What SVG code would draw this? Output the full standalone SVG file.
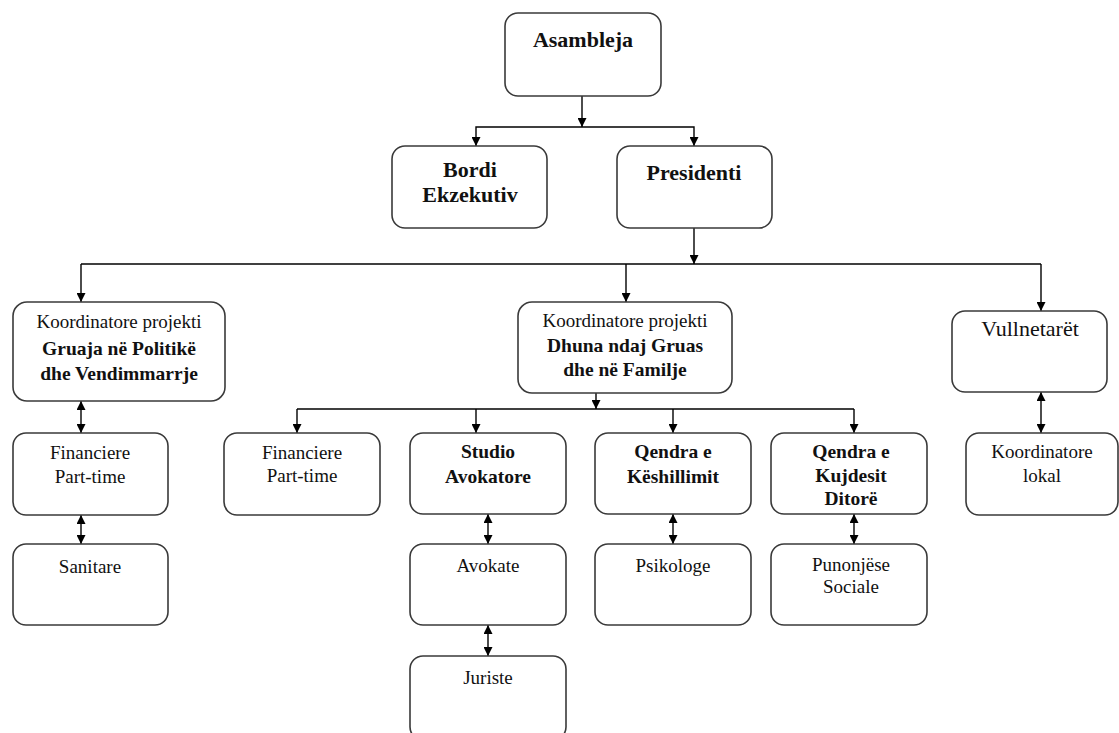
<svg xmlns="http://www.w3.org/2000/svg" width="1119" height="733" viewBox="0 0 1119 733">
<style>
.box{fill:#fff;stroke:#3a3a3a;stroke-width:1.6}
.t{font-family:"Liberation Serif","Times New Roman",serif;fill:#111;text-anchor:middle;font-size:19px}
.b{font-weight:bold;font-size:19.5px}
.big{font-size:22px}
.c{fill:none;stroke:#000;stroke-width:1.4}
</style>
<defs>
<marker id="ah" markerUnits="userSpaceOnUse" markerWidth="9" markerHeight="9" refX="9" refY="4.5" orient="auto-start-reverse" viewBox="0 0 9 9">
<path d="M0,0 L9,4.5 L0,9 z" fill="#000"/>
</marker>
</defs>
<rect width="1119" height="733" fill="#fff"/>
<g id="connectors">
<path class="c" d="M582,96 V127" marker-end="url(#ah)"/>
<path class="c" d="M582,127 H476 V146" marker-end="url(#ah)"/>
<path class="c" d="M582,127 H694 V146" marker-end="url(#ah)"/>
<path class="c" d="M694,228 V264" marker-end="url(#ah)"/>
<path class="c" d="M81,264 H1041"/>
<path class="c" d="M81,264 V302" marker-end="url(#ah)"/>
<path class="c" d="M626,264 V302" marker-end="url(#ah)"/>
<path class="c" d="M1041,264 V311" marker-end="url(#ah)"/>
<path class="c" d="M81,401 V433" marker-start="url(#ah)" marker-end="url(#ah)"/>
<path class="c" d="M596,393 V409" marker-end="url(#ah)"/>
<path class="c" d="M297,409 H854"/>
<path class="c" d="M297,409 V433" marker-end="url(#ah)"/>
<path class="c" d="M476,409 V433" marker-end="url(#ah)"/>
<path class="c" d="M673,409 V433" marker-end="url(#ah)"/>
<path class="c" d="M854,409 V433" marker-end="url(#ah)"/>
<path class="c" d="M81,515 V544" marker-start="url(#ah)" marker-end="url(#ah)"/>
<path class="c" d="M488,514 V544" marker-start="url(#ah)" marker-end="url(#ah)"/>
<path class="c" d="M488,625 V656" marker-start="url(#ah)" marker-end="url(#ah)"/>
<path class="c" d="M673,514 V544" marker-start="url(#ah)" marker-end="url(#ah)"/>
<path class="c" d="M854,514 V544" marker-start="url(#ah)" marker-end="url(#ah)"/>
<path class="c" d="M1041,392 V433" marker-start="url(#ah)" marker-end="url(#ah)"/>
</g>
<g id="asambleja"><rect class="box" x="505" y="13" width="156" height="83" rx="13"/><text class="t b big" x="583" y="47">Asambleja</text></g>
<g id="bordi"><rect class="box" x="392" y="146" width="155" height="82" rx="13"/><text class="t b big" x="470" y="177">Bordi</text><text class="t b big" x="470" y="202">Ekzekutiv</text></g>
<g id="presidenti"><rect class="box" x="617" y="146" width="155" height="82" rx="13"/><text class="t b big" x="694" y="180">Presidenti</text></g>
<g id="koord-politike"><rect class="box" x="13" y="302" width="212" height="99" rx="14"/><text class="t" x="119" y="328">Koordinatore projekti</text><text class="t b" x="119" y="355">Gruaja në Politikë</text><text class="t b" x="119" y="380">dhe Vendimmarrje</text></g>
<g id="koord-dhuna"><rect class="box" x="518" y="302" width="214" height="91" rx="14"/><text class="t" x="625" y="327">Koordinatore projekti</text><text class="t b" x="625" y="352">Dhuna ndaj Gruas</text><text class="t b" x="625" y="376">dhe në Familje</text></g>
<g id="vullnetaret"><rect class="box" x="952" y="311" width="155" height="81" rx="13"/><text class="t big" x="1030" y="336">Vullnetarët</text></g>
<g id="financiere1"><rect class="box" x="13" y="433" width="155" height="82" rx="13"/><text class="t" x="90" y="459">Financiere</text><text class="t" x="90" y="483">Part-time</text></g>
<g id="sanitare"><rect class="box" x="13" y="544" width="155" height="81" rx="13"/><text class="t" x="90" y="573">Sanitare</text></g>
<g id="financiere2"><rect class="box" x="224" y="433" width="156" height="82" rx="13"/><text class="t" x="302" y="459">Financiere</text><text class="t" x="302" y="482">Part-time</text></g>
<g id="studio"><rect class="box" x="410" y="433" width="156" height="81" rx="13"/><text class="t b" x="488" y="458">Studio</text><text class="t b" x="488" y="483">Avokatore</text></g>
<g id="avokate"><rect class="box" x="410" y="544" width="156" height="81" rx="13"/><text class="t" x="488" y="572">Avokate</text></g>
<g id="juriste"><rect class="box" x="410" y="656" width="156" height="84" rx="13"/><text class="t" x="488" y="684">Juriste</text></g>
<g id="keshillimi"><rect class="box" x="595" y="433" width="156" height="81" rx="13"/><text class="t b" x="673" y="458">Qendra e</text><text class="t b" x="673" y="483">Këshillimit</text></g>
<g id="psikologe"><rect class="box" x="595" y="544" width="156" height="81" rx="13"/><text class="t" x="673" y="572">Psikologe</text></g>
<g id="kujdesi"><rect class="box" x="771" y="433" width="156" height="81" rx="13"/><text class="t b" x="851" y="458">Qendra e</text><text class="t b" x="851" y="482">Kujdesit</text><text class="t b" x="851" y="505">Ditorë</text></g>
<g id="punonjese"><rect class="box" x="771" y="544" width="156" height="81" rx="13"/><text class="t" x="851" y="571">Punonjëse</text><text class="t" x="851" y="593">Sociale</text></g>
<g id="koord-lokal"><rect class="box" x="966" y="433" width="152" height="82" rx="13"/><text class="t" x="1042" y="458">Koordinatore</text><text class="t" x="1042" y="482">lokal</text></g>
</svg>
